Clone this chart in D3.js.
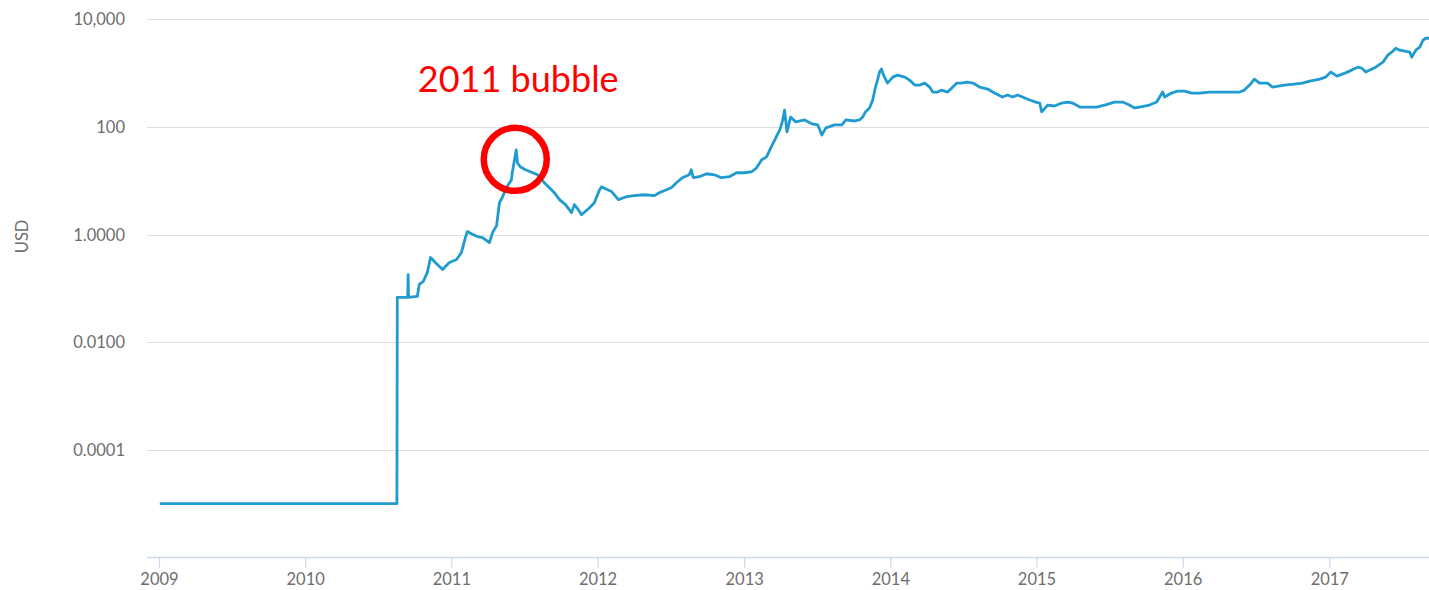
<!DOCTYPE html>
<html>
<head>
<meta charset="utf-8">
<script src="https://cdn.jsdelivr.net/npm/d3@7"></script>
<style>
  body { margin: 0; background: #ffffff; }
  svg { display: block; }
</style>
</head>
<body>
<svg id="chart" width="1429" height="590"></svg>
<script>
// Bitcoin market price (USD), log scale
const dates = [
  "2009-01-03","2010-08-18","2010-08-19","2010-09-14","2010-09-15","2010-09-16","2010-10-08","2010-10-13",
  "2010-10-23","2010-11-02","2010-11-10","2010-11-22","2010-12-10","2010-12-27","2011-01-14","2011-01-26",
  "2011-02-05","2011-02-10","2011-02-20","2011-03-07","2011-03-20","2011-04-06","2011-04-14","2011-04-24",
  "2011-05-01","2011-05-09","2011-05-16","2011-05-26","2011-05-31","2011-06-02","2011-06-12","2011-06-15",
  "2011-06-22","2011-07-05","2011-07-17","2011-08-04","2011-08-21","2011-09-03","2011-09-15","2011-09-28",
  "2011-10-13","2011-10-28","2011-11-04","2011-11-14","2011-11-22","2011-12-12","2011-12-24","2012-01-06",
  "2012-01-11","2012-01-21","2012-02-05","2012-02-22","2012-03-13","2012-04-02","2012-04-27","2012-05-22",
  "2012-06-03","2012-06-21","2012-07-03","2012-07-16","2012-07-31","2012-08-17","2012-08-22","2012-08-27",
  "2012-09-11","2012-09-29","2012-10-19","2012-11-05","2012-11-25","2012-12-13","2013-01-03","2013-01-20",
  "2013-02-01","2013-02-14","2013-02-26","2013-03-08","2013-03-21","2013-03-31","2013-04-07","2013-04-12",
  "2013-04-18","2013-04-27","2013-05-10","2013-06-01","2013-06-19","2013-07-04","2013-07-14","2013-07-24",
  "2013-08-15","2013-09-02","2013-09-12","2013-10-04","2013-10-16","2013-10-24","2013-10-31","2013-11-10",
  "2013-11-18","2013-11-25","2013-11-30","2013-12-05","2013-12-10","2013-12-15","2013-12-25","2014-01-07",
  "2014-01-19","2014-02-06","2014-02-18","2014-03-03","2014-03-15","2014-03-28","2014-04-09","2014-04-17",
  "2014-04-29","2014-05-09","2014-05-24","2014-06-06","2014-06-16","2014-06-28","2014-07-11","2014-07-26",
  "2014-08-12","2014-09-01","2014-09-18","2014-10-08","2014-10-21","2014-11-02","2014-11-15","2014-11-27",
  "2014-12-15","2014-12-30","2015-01-09","2015-01-14","2015-01-29","2015-02-15","2015-03-05","2015-03-20",
  "2015-04-01","2015-04-19","2015-05-09","2015-05-31","2015-06-20","2015-07-15","2015-08-04","2015-08-21",
  "2015-09-03","2015-09-15","2015-10-10","2015-10-28","2015-11-12","2015-11-17","2015-12-04","2015-12-19",
  "2016-01-06","2016-01-23","2016-02-12","2016-03-08","2016-04-02","2016-04-27","2016-05-22","2016-06-03",
  "2016-06-16","2016-06-28","2016-07-11","2016-07-31","2016-08-12","2016-09-11","2016-10-06","2016-10-26",
  "2016-11-13","2016-12-08","2016-12-23","2017-01-05","2017-01-20","2017-02-09","2017-02-26","2017-03-13",
  "2017-03-23","2017-04-02","2017-04-12","2017-04-27","2017-05-15","2017-05-27","2017-06-06","2017-06-16",
  "2017-06-26","2017-07-09","2017-07-21","2017-07-26","2017-08-05","2017-08-15","2017-08-23","2017-08-30",
  "2017-09-07"
];
const prices = [
  0.00001,0.00001,0.068,0.068,0.18,0.068,0.071,0.119,
  0.135,0.198,0.375,0.303,0.225,0.303,0.344,0.464,
  0.88,1.14,1.04,0.92,0.88,0.711,1.09,1.47,
  3.9,5.05,6.8,9.2,10.4,14.1,37.5,21.5,
  18.2,16.0,14.7,12.9,9.2,7.4,6.0,4.45,
  3.6,2.55,3.6,2.9,2.34,3.16,3.9,6.8,
  7.7,7.1,6.3,4.45,5.05,5.3,5.5,5.3,
  6.0,6.8,7.4,9.2,11.4,12.9,16.0,11.4,
  11.9,13.5,12.9,11.4,11.9,14.1,14.1,14.7,
  17.4,24.5,27.8,40,62.5,88,130,206,
  80.7,153,124,135,114,109,71,96,
  109,109,135,129,135,153,190,225,
  316,551,741,1044,1190,918,653,843,
  918,843,741,599,599,653,551,445,
  445,484,445,551,653,653,681,653,
  551,506,426,359,392,359,392,359,
  316,290,278,190,255,245,278,290,
  278,234,234,234,255,290,290,255,
  225,234,255,290,445,359,426,464,
  464,426,426,445,445,445,445,484,
  599,774,653,653,551,599,625,653,
  711,774,843,1044,880,1000,1137,1292,
  1238,1044,1137,1292,1598,2154,2449,2900,
  2667,2554,2449,1978,2667,3030,4084,4446,
  4446
];

const yTickValues = [0.0001, 0.01, 1, 100, 10000];
const yTickLabels = ["0.0001", "0.0100", "1.0000", "100", "10,000"];
const xTickYears = [2009, 2010, 2011, 2012, 2013, 2014, 2015, 2016, 2017];
const yAxisTitle = "USD";
const noteText = "2011 bubble";
const noteDate = "2011-06-12";

const parse = d3.utcParse("%Y-%m-%d");
const data = dates.map((d, i) => ({ date: parse(d), price: prices[i] }));

const svg = d3.select("#chart");
const plotLeft = 147, plotRight = 1429, plotTop = 19.3, plotBottom = 557.5;

const x = d3.scaleUtc()
  .domain([parse("2009-01-01"), parse("2017-09-07")])
  .range([159, plotRight]);
const y = d3.scaleLog()
  .domain([1e-6, 1e4])
  .range([plotBottom, plotTop]);

const fontFamily = "Lato, 'Open Sans', sans-serif";
const labelColor = "#6e6e6e";

// horizontal grid lines
svg.append("g")
  .selectAll("line")
  .data(yTickValues)
  .join("line")
  .attr("x1", plotLeft).attr("x2", plotRight)
  .attr("y1", d => Math.round(y(d)) + 0.5).attr("y2", d => Math.round(y(d)) + 0.5)
  .attr("stroke", "#e0e0e0").attr("stroke-width", 1);

// y labels
svg.append("g")
  .selectAll("text")
  .data(yTickValues)
  .join("text")
  .attr("x", 125)
  .attr("y", d => y(d))
  .attr("dy", "0.36em")
  .attr("text-anchor", "end")
  .attr("fill", labelColor)
  .attr("font-family", fontFamily)
  .attr("font-size", 16.5)
  .text((d, i) => yTickLabels[i]);

// y axis title
svg.append("text")
  .attr("transform", `translate(28,${(plotTop + plotBottom) / 2 - 52}) rotate(-90)`)
  .attr("text-anchor", "middle")
  .attr("fill", labelColor)
  .attr("font-family", fontFamily)
  .attr("font-size", 16.5)
  .text(yAxisTitle);

// x axis
const xAxis = d3.axisBottom(x)
  .tickValues(xTickYears.map(yr => new Date(Date.UTC(yr, 0, 1))))
  .tickFormat(d3.utcFormat("%Y"))
  .tickSize(10)
  .tickSizeOuter(0);
const gx = svg.append("g")
  .attr("transform", `translate(0,${plotBottom})`)
  .call(xAxis);
gx.select(".domain").remove();
gx.insert("line", ":first-child")
  .attr("x1", plotLeft).attr("x2", plotRight)
  .attr("y1", 0).attr("y2", 0)
  .attr("stroke", "#ccd6eb").attr("stroke-width", 1.5);
gx.selectAll(".tick line").attr("stroke", "#ccd6eb").attr("stroke-width", 1.2);
gx.selectAll(".tick text")
  .attr("fill", labelColor)
  .attr("font-family", fontFamily)
  .attr("font-size", 16.5)
  .attr("y", 27)
  .attr("dy", 0);

// price line
const line = d3.line()
  .x(d => x(d.date))
  .y(d => y(d.price));
svg.append("path")
  .datum(data)
  .attr("fill", "none")
  .attr("stroke", "#1f9bd0")
  .attr("stroke-width", 2.8)
  .attr("stroke-linejoin", "round")
  .attr("d", line);

// annotation for the 2011 peak
const peak = data.find(d => +d.date === +parse(noteDate));
const px = x(peak.date), py = y(peak.price);
svg.append("circle")
  .attr("cx", px - 1)
  .attr("cy", py + 9.5)
  .attr("r", 31.5)
  .attr("fill", "none")
  .attr("stroke", "#ff0000")
  .attr("stroke-width", 6.5);
svg.append("text")
  .attr("x", px + 2)
  .attr("y", py - 58)
  .attr("text-anchor", "middle")
  .attr("fill", "#ff0000")
  .attr("font-family", "Lato, 'Liberation Sans', sans-serif")
  .attr("font-size", 36)
  .text(noteText);
</script>
</body>
</html>
